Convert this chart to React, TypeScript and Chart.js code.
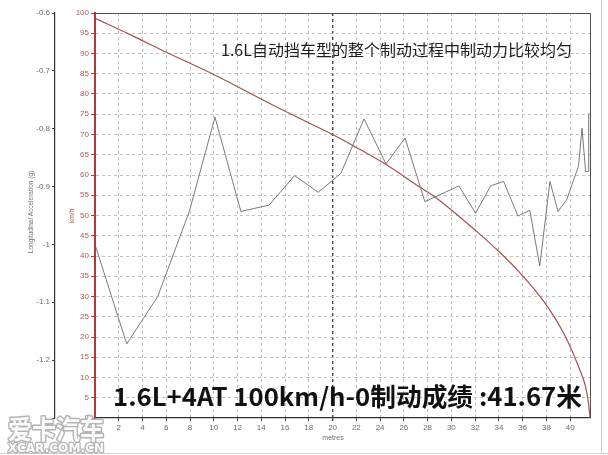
import { useEffect, useRef } from 'react';
import { Chart, registerables } from 'chart.js';

Chart.register(...registerables);

// ---- data ----
const accelDist = [0, 2.67, 5.28, 7.94, 10.1, 12.28, 14.66, 16.8, 18.8, 20.7, 22.65, 24.5, 26.1, 27.77, 30.63, 32.04, 33.3, 34.4, 35.6, 36.6, 37.44, 38.3, 38.97, 39.7, 40.7, 41.0, 41.3, 41.52, 41.56];
const accelG = [-1.0, -1.172, -1.09, -0.943, -0.78, -0.943, -0.932, -0.881, -0.91, -0.877, -0.783, -0.861, -0.816, -0.926, -0.899, -0.946, -0.899, -0.891, -0.951, -0.941, -1.037, -0.891, -0.943, -0.923, -0.865, -0.799, -0.874, -0.874, -0.773];

const speedDist = [0, 3, 6, 10, 15.2, 18.9, 20, 21.7, 24.5, 27.3, 28.7, 32, 34, 35.7, 37.9, 39.6, 40.7, 41.3, 41.55, 41.67];
const speedKmh = [98.7, 94.6, 90.3, 84.8, 76.9, 71.6, 70.0, 67.3, 62.6, 57.1, 54.4, 46.4, 41.1, 36.1, 28.3, 20.1, 12.7, 7.7, 3.5, 0];

const distMin = 0;
const distMax = 41.67;
const distStep = 2;
const kmhMin = 0;
const kmhMax = 100;
const kmhStep = 5;
const gMin = -1.3;
const gMax = -0.6;
const gStep = 0.1;
const markedDist = 20;

const TITLE_TOP = '1.6L自动挡车型的整个制动过程中制动力比较均匀';
const TITLE_BOTTOM = '1.6L+4AT 100km/h-0制动成绩 :41.67米';
const G_AXIS_TITLE = 'Longitudinal Acceleration (g)';
const KMH_AXIS_TITLE = 'km/h';
const X_AXIS_TITLE = 'metres';
const WATERMARK_CN = '爱卡汽车';
const WATERMARK_EN = 'XCAR.COM.CN';

const TICK_FONT = { family: '"Liberation Sans", Arial, sans-serif', size: 8 };
const CJK = '"Noto Sans CJK SC", "Noto Sans", sans-serif';
const GRID = '#c2c2c2';

const overlay = {
  id: 'overlay',
  afterDraw(chart: any) {
    const { ctx, chartArea: a } = chart;
    ctx.save();
    // plot frame (top + right)
    ctx.strokeStyle = '#505050';
    ctx.lineWidth = 1;
    ctx.beginPath();
    ctx.moveTo(a.left, a.top + 0.5);
    ctx.lineTo(a.right + 0.5, a.top + 0.5);
    ctx.lineTo(a.right + 0.5, a.bottom);
    ctx.stroke();
    // left red speed axis line
    ctx.strokeStyle = '#b03a3a';
    ctx.lineWidth = 2;
    ctx.beginPath();
    ctx.moveTo(a.left, a.top);
    ctx.lineTo(a.left, a.bottom);
    ctx.stroke();
    // outer light picture frame
    ctx.strokeStyle = '#cfcfcf';
    ctx.lineWidth = 1;
    ctx.beginPath();
    ctx.moveTo(601.5, 0);
    ctx.lineTo(601.5, 453.5);
    ctx.moveTo(0, 453.5);
    ctx.lineTo(608, 453.5);
    ctx.stroke();

    // axis titles
    ctx.fillStyle = '#707070';
    ctx.font = '6.5px "Liberation Sans", Arial, sans-serif';
    ctx.textAlign = 'center';
    ctx.textBaseline = 'middle';
    ctx.save();
    ctx.translate(31, 212);
    ctx.rotate(-Math.PI / 2);
    ctx.fillText(G_AXIS_TITLE, 0, 0);
    ctx.restore();
    ctx.save();
    ctx.fillStyle = '#a04848';
    ctx.translate(72, 216);
    ctx.rotate(-Math.PI / 2);
    ctx.fillText(KMH_AXIS_TITLE, 0, 0);
    ctx.restore();
    ctx.font = '7px "Liberation Sans", Arial, sans-serif';
    ctx.fillText(X_AXIS_TITLE, 333, 438);

    // annotation texts
    ctx.textAlign = 'left';
    ctx.textBaseline = 'alphabetic';
    ctx.fillStyle = '#1e1e1e';
    ctx.font = `16px ${CJK}`;
    ctx.fillText(TITLE_TOP, 221, 56);
    ctx.fillStyle = '#111';
    ctx.font = `bold 25px ${CJK}`;
    const bw = ctx.measureText(TITLE_BOTTOM).width;
    ctx.save();
    ctx.translate(113, 406);
    ctx.scale(469 / bw, 1);
    ctx.fillText(TITLE_BOTTOM, 0, 0);
    ctx.restore();

    // watermark (outlined, white-filled)
    ctx.font = `bold 26px ${CJK}`;
    const w1 = ctx.measureText(WATERMARK_CN).width;
    ctx.save();
    ctx.translate(8, 439);
    ctx.scale(96 / w1, 1);
    ctx.lineJoin = 'round';
    ctx.strokeStyle = '#b4b4b4';
    ctx.lineWidth = 3;
    ctx.strokeText(WATERMARK_CN, 0, 0);
    ctx.fillStyle = '#fbfbfb';
    ctx.fillText(WATERMARK_CN, 0, 0);
    ctx.restore();
    ctx.font = 'bold 12px "DejaVu Sans", sans-serif';
    const w2 = ctx.measureText(WATERMARK_EN).width;
    ctx.save();
    ctx.translate(8, 452);
    ctx.scale(96 / w2, 1);
    ctx.lineJoin = 'round';
    ctx.strokeStyle = '#b4b4b4';
    ctx.lineWidth = 2.4;
    ctx.strokeText(WATERMARK_EN, 0, 0);
    ctx.fillStyle = '#fbfbfb';
    ctx.fillText(WATERMARK_EN, 0, 0);
    ctx.restore();

    ctx.restore();
  },
};

export default function App() {
  const ref = useRef<HTMLCanvasElement | null>(null);

  useEffect(() => {
    const canvas = ref.current;
    if (!canvas) return;
    const chart = new Chart(canvas, {
      type: 'scatter',
      data: {
        datasets: [
          {
            label: 'Speed',
            data: speedDist.map((d, i) => ({ x: d, y: speedKmh[i] })),
            yAxisID: 'kmh',
            showLine: true,
            borderColor: '#a65050',
            borderWidth: 1.2,
            pointRadius: 0,
            cubicInterpolationMode: 'monotone',
          },
          {
            label: 'Acceleration',
            data: accelDist.map((d, i) => ({ x: d, y: accelG[i] })),
            yAxisID: 'g',
            showLine: true,
            borderColor: '#7a7a7a',
            borderWidth: 1,
            pointRadius: 0,
            tension: 0,
          },
        ],
      },
      options: {
        responsive: false,
        animation: false,
        events: [],
        layout: { padding: { left: 0, right: 18, top: 13, bottom: 0 } },
        plugins: { legend: { display: false }, tooltip: { enabled: false } },
        scales: {
          x: {
            type: 'linear',
            position: 'bottom',
            min: distMin,
            max: distMax,
            afterFit: (s: any) => { s.height = 37; },
            ticks: {
              stepSize: distStep,
              includeBounds: false,
              autoSkip: false,
              maxRotation: 0,
              color: '#6a6a6a',
              font: TICK_FONT,
              padding: 2,
            },
            grid: {
              color: (c: any) => (c.tick && c.tick.value === 0 ? 'rgba(0,0,0,0)' : c.tick && c.tick.value === markedDist ? '#4a4a4a' : GRID),
              lineWidth: (c: any) => (c.tick && c.tick.value === markedDist ? 1.4 : 1),
              tickColor: '#444',
              tickLength: 3,
            },
            border: { display: true, color: '#303030', width: 1.2, dash: [3, 3] },
          },
          kmh: {
            type: 'linear',
            position: 'left',
            weight: 0,
            min: kmhMin,
            max: kmhMax,
            afterFit: (s: any) => { s.width = 40; },
            ticks: {
              stepSize: kmhStep,
              includeBounds: false,
              autoSkip: false,
              color: '#a85a5a',
              font: TICK_FONT,
              padding: 2,
            },
            grid: {
              color: (c: any) => (c.tick && (c.tick.value === kmhMin || c.tick.value === kmhMax) ? 'rgba(0,0,0,0)' : GRID),
              tickColor: '#b04040',
              tickLength: 4,
            },
            border: { display: true, color: '#b03a3a', width: 2, dash: [3, 3] },
          },
          g: {
            type: 'linear',
            position: 'left',
            weight: 1,
            min: gMin,
            max: gMax,
            afterFit: (s: any) => { s.width = 55; },
            ticks: {
              stepSize: gStep,
              includeBounds: false,
              autoSkip: false,
              color: '#6a6a6a',
              font: TICK_FONT,
              padding: 2,
              callback: (v: any) => {
                const r = Math.round(Number(v) * 10) / 10;
                if (Math.abs(r - gMin) < 1e-6) return '';
                return String(r);
              },
            },
            grid: {
              drawOnChartArea: false,
              color: '#444',
              tickColor: '#444',
              tickLength: 3,
            },
            border: { display: true, color: '#303030', width: 1.2 },
          },
        },
      },
      plugins: [overlay],
    } as any);
    return () => chart.destroy();
  }, []);

  return (
    <div style={{ position: 'absolute', left: 0, top: 0, width: 608, height: 455, background: '#fff' }}>
      <canvas ref={ref} width={608} height={455} style={{ display: 'block', width: 608, height: 455 }} />
    </div>
  );
}
